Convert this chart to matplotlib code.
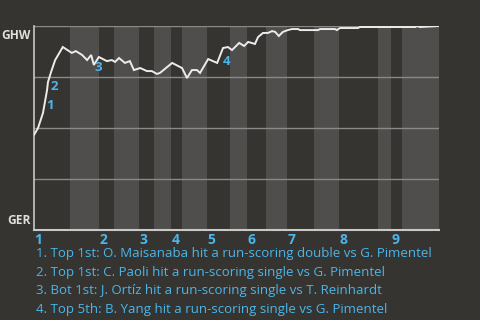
import matplotlib
matplotlib.use("Agg")
import matplotlib.pyplot as plt

# Play index (game progress) and win probability for GHW
plays = [0, 0.9, 2.0, 2.9, 3.1, 3.8, 4.7, 6.4, 8.4, 9.3, 10.7, 11.8, 12.7, 13.3, 14.4,
         16.2, 17.3, 18.0, 18.9, 20.2, 21.3, 22.2, 23.6, 25.1, 26.2, 27.3, 28.0, 30.7,
         32.9, 34.0, 35.1, 36.2, 36.9, 38.7, 40.7, 42.0, 43.1, 44.0, 45.6, 46.7, 47.6,
         49.1, 49.8, 50.9, 52.0, 52.9, 53.6, 54.4, 55.3, 56.4, 57.3, 58.7, 59.1, 63.1,
         63.6, 66.9, 67.3, 68.0, 72.0, 72.4, 84.7, 85.1, 85.8, 89.8, 90]
wp = [0.466, 0.50, 0.574, 0.686, 0.725, 0.775, 0.833, 0.897, 0.868, 0.877, 0.858, 0.833,
      0.858, 0.809, 0.848, 0.828, 0.833, 0.824, 0.843, 0.819, 0.828, 0.784, 0.794, 0.779,
      0.779, 0.765, 0.770, 0.819, 0.794, 0.745, 0.784, 0.784, 0.770, 0.838, 0.819, 0.892,
      0.897, 0.882, 0.917, 0.902, 0.922, 0.912, 0.946, 0.966, 0.966, 0.975, 0.971, 0.951,
      0.971, 0.980, 0.985, 0.985, 0.980, 0.980, 0.985, 0.985, 0.980, 0.990, 0.990, 0.995,
      0.995, 1.0, 0.995, 1.0, 1.0]

# Half-inning boundaries (bottom halves shaded)
bottom_half_start = [8.0, 17.8, 26.7, 32.9, 43.6, 51.6, 62.2, 76.4, 81.8]
bottom_half_end = [14.4, 23.3, 30.4, 38.4, 47.3, 56.2, 67.8, 79.3, 90.0]
inning_start = [0, 14.4, 23.3, 30.4, 38.4, 47.3, 56.2, 67.8, 79.3]
inning_labels = ["1", "2", "3", "4", "5", "6", "7", "8", "9"]

# Scoring play markers
event_x = [3.6, 4.4, 14.2, 42.9]
event_y = [0.608, 0.701, 0.799, 0.828]
event_labels = ["1", "2", "3", "4"]
event_text = [
    "1. Top 1st: O. Maisanaba hit a run-scoring double vs G. Pimentel",
    "2. Top 1st: C. Paoli hit a run-scoring single vs G. Pimentel",
    "3. Bot 1st: J. Ortíz hit a run-scoring single vs T. Reinhardt",
    "4. Top 5th: B. Yang hit a run-scoring single vs G. Pimentel",
]
teams = ["GHW", "GER"]

BG = "#363431"
BAND = "#4f4e4c"
BLUE = "#4bb6ea"
FONT = "Open Sans"

fig = plt.figure(figsize=(4.8, 3.2), dpi=100, facecolor=BG)
ax = fig.add_axes([34 / 480, 90 / 320, 405 / 480, 204 / 320])
ax.set_facecolor(BG)
ax.set_xlim(0, 90)
ax.set_ylim(0, 1)

for s, e in zip(bottom_half_start, bottom_half_end):
    ax.axvspan(s, e, color=BAND, lw=0, zorder=0)

for g in [0.25, 0.5, 0.75, 1.0]:
    ax.axhline(g, color="#8a8987", lw=1.0, zorder=1)

ax.plot(plays, wp, color="#ececec", lw=1.4, zorder=3, solid_joinstyle="miter")

for x, y, t in zip(event_x, event_y, event_labels):
    ax.text(x, y, t, color=BLUE, fontsize=9.5, fontweight="bold", family=FONT,
            ha="center", va="center", zorder=4)

for sp in ["top", "right"]:
    ax.spines[sp].set_visible(False)
ax.spines["left"].set_color("#c8c8c8")
ax.spines["bottom"].set_color("#c8c8c8")
ax.spines["left"].set_linewidth(1.2)
ax.spines["bottom"].set_linewidth(1.5)
ax.set_xticks([])
ax.set_yticks([])

for x, t in zip(inning_start, inning_labels):
    ax.text(x + 0.15, -0.015, t, color=BLUE, fontsize=10, fontweight="bold", family=FONT,
            ha="left", va="top", transform=ax.transData, clip_on=False)

ax.text(-0.008, 0.985, teams[0], transform=ax.transAxes, ha="right", va="top",
        color="#e0e0e0", fontsize=8.6, fontweight="bold", family=FONT)
ax.text(-0.008, 0.015, teams[1], transform=ax.transAxes, ha="right", va="bottom",
        color="#e0e0e0", fontsize=8.6, fontweight="bold", family=FONT)

for i, t in enumerate(event_text):
    fig.text(36 / 480, 1 - (254 + i * 18.4) / 320, t, color=BLUE, fontsize=9.5,
             family=FONT, ha="left", va="center")

fig.savefig("out.png", dpi=100, facecolor=BG)
